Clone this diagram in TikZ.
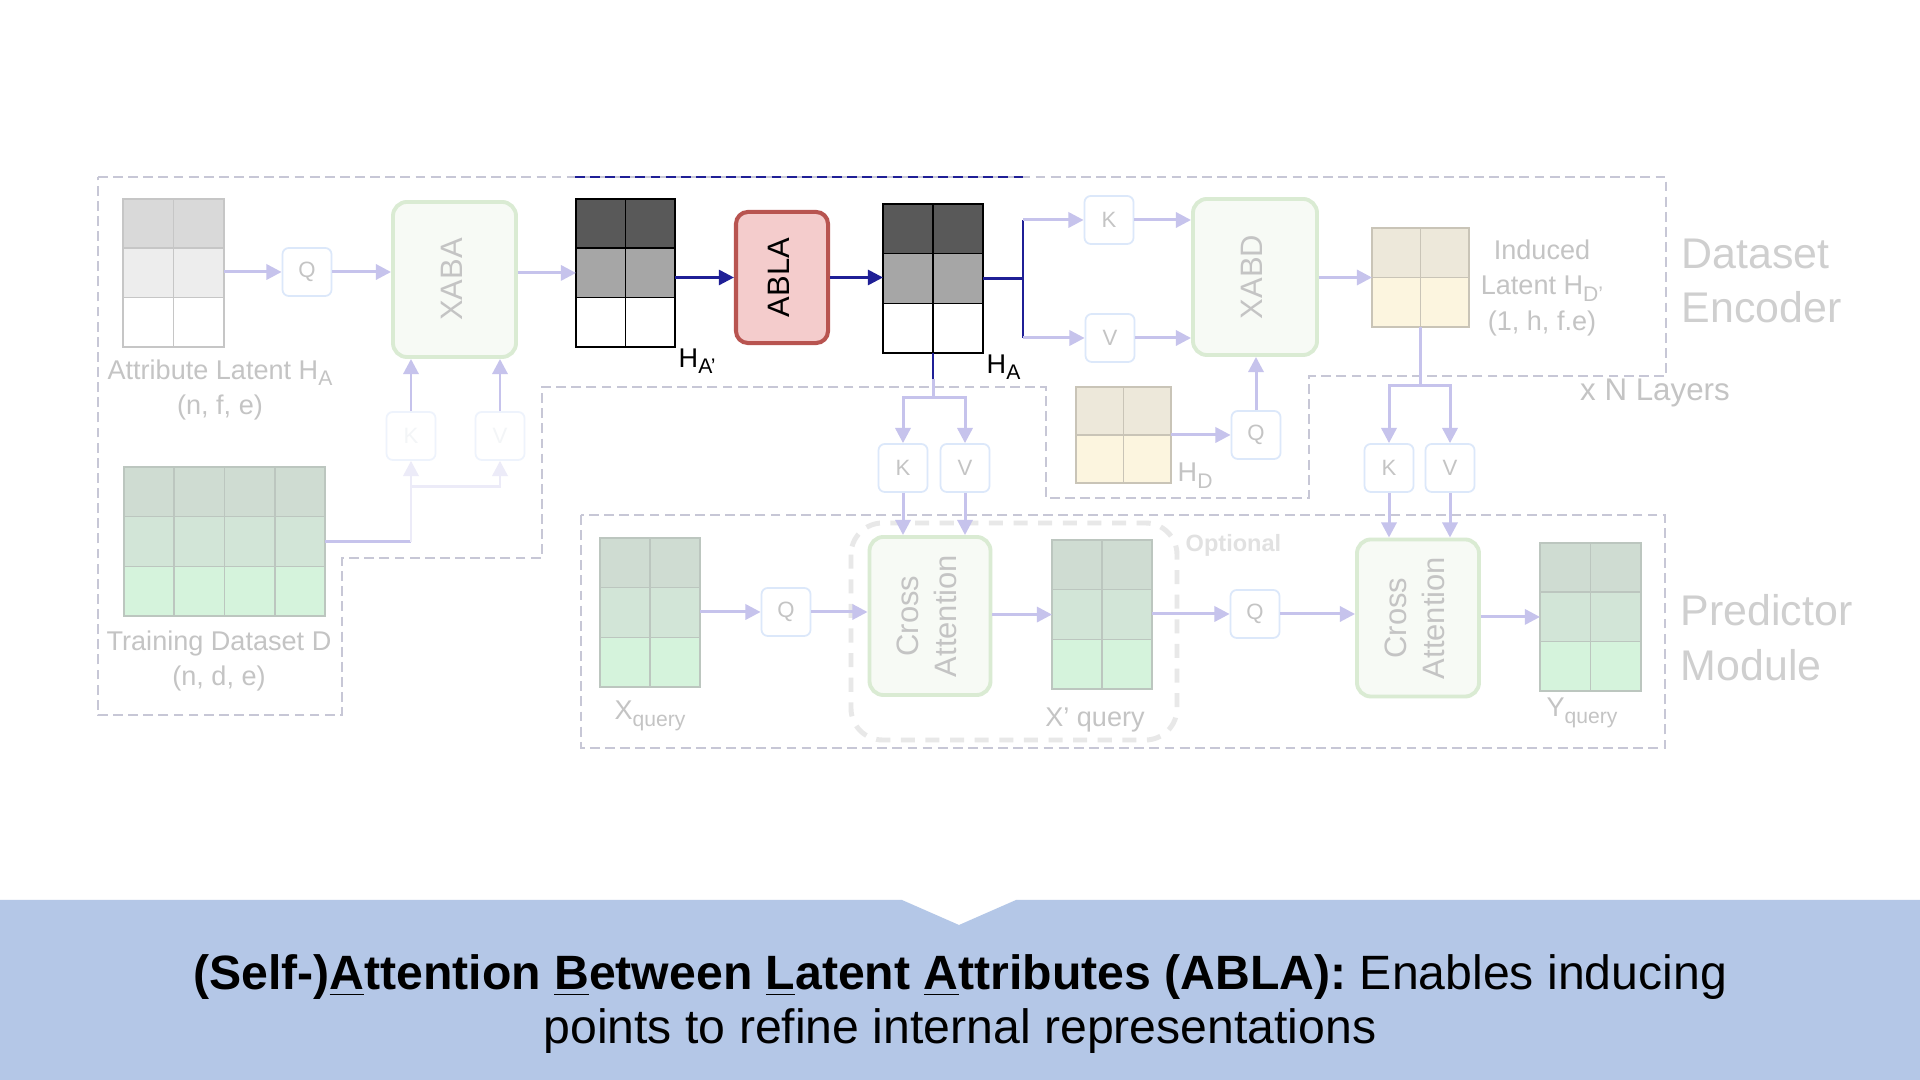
\documentclass[tikz,border=0pt]{standalone}
\usepackage{fontspec}
\setmainfont{Liberation Sans}
\usepackage{graphicx}
\usetikzlibrary{arrows.meta, positioning, calc}
\definecolor{flowpurple}{HTML}{C6C3EC}
\definecolor{ghostpurple}{HTML}{ECEBF8}
\definecolor{ablanavy}{HTML}{1F1F96}
\definecolor{qkvblue}{HTML}{DCE8FA}
\definecolor{ghostblue}{HTML}{EEF3FC}
\definecolor{attngreen}{HTML}{DAEBD3}
\definecolor{attnfill}{HTML}{F7FAF5}
\definecolor{ablafill}{HTML}{F4CCCC}
\definecolor{ablaborder}{HTML}{B85450}
\definecolor{labelgray}{HTML}{C4C4C4}
\definecolor{sectiongray}{HTML}{CFCFCF}
\definecolor{outlinegray}{HTML}{C7C7D6}
\definecolor{optgray}{HTML}{E8E8E8}
\definecolor{bannerblue}{HTML}{B4C7E7}
\definecolor{latgrayA}{HTML}{D9D9D9}
\definecolor{latgrayB}{HTML}{EDEDED}
\definecolor{latline}{HTML}{C6C6C6}
\definecolor{darkA}{HTML}{595959}
\definecolor{darkB}{HTML}{A6A6A6}
\definecolor{greenA}{HTML}{CFDCD2}
\definecolor{greenB}{HTML}{D2E5D7}
\definecolor{greenC}{HTML}{D5F3DC}
\definecolor{greenline}{HTML}{BCC6BF}
\definecolor{beigeA}{HTML}{EDE8DA}
\definecolor{beigeB}{HTML}{FCF5DF}
\definecolor{beigeline}{HTML}{C9C4B7}

% name, left, top, cols, rows, cell w, cell h, row fills, line colour
\newcommand{\cellgrid}[9]{%
  \foreach \gfill [count=\gr from 0] in {#8}{%
    \foreach \gc in {1,...,#4}{%
      \filldraw[fill=\gfill, draw=#9, line width=0.45pt]
        ({#2+(\gc-1)*#6},{#3+\gr*#7}) rectangle ++(#6,#7);
    }%
  }%
  \node[inner sep=0pt, outer sep=0pt, anchor=north west,
        minimum width={#4*#6*0.01cm}, minimum height={#5*#7*0.01cm}] (#1) at (#2,#3) {};%
}
\newcommand{\vtext}[1]{\rotatebox{90}{\begin{tabular}{@{}c@{}}#1\end{tabular}}}
\newcommand{\lsub}[1]{\raisebox{-0.45ex}{\scalebox{0.78}{#1}}}

\tikzset{
  flow/.style={draw=flowpurple, line width=0.85pt, -{Triangle[length=4.3pt, width=4.3pt]}},
  flowline/.style={draw=flowpurple, line width=0.85pt},
  ghostflow/.style={draw=ghostpurple, line width=0.85pt, -{Triangle[length=4.3pt, width=4.3pt]}},
  ghostline/.style={draw=ghostpurple, line width=0.85pt},
  navyflow/.style={draw=ablanavy, line width=0.75pt, -{Triangle[length=4.3pt, width=4.3pt]}},
  navyline/.style={draw=ablanavy, line width=0.75pt},
  qkv/.style={draw=qkvblue, fill=white, rounded corners=1.8pt, line width=0.5pt,
    minimum width=0.49cm, minimum height=0.48cm, inner sep=0pt, text=labelgray,
    font=\fontsize{6.3}{7}\selectfont},
  ghostqkv/.style={qkv, draw=ghostblue, text=ghostblue!70!labelgray!40},
  attnbox/.style={draw=attngreen, fill=attnfill, rounded corners=4pt, line width=1.1pt,
    inner sep=0pt, text=labelgray, font=\fontsize{8.8}{10.8}\selectfont},
  ablabox/.style={draw=ablaborder, fill=ablafill, rounded corners=3.4pt, line width=1.15pt,
    inner sep=0pt, font=\fontsize{8.8}{10.8}\selectfont},
  lbl/.style={inner sep=0pt, text=labelgray, font=\fontsize{7.7}{10}\selectfont},
  hlbl/.style={inner sep=0pt, font=\fontsize{7.7}{9.4}\selectfont},
  section/.style={inner sep=0pt, text=sectiongray, align=left, font=\fontsize{12.2}{15.6}\selectfont},
  outline/.style={draw=outlinegray, line width=0.5pt, dash pattern=on 2.8pt off 1.5pt},
  navydash/.style={draw=ablanavy, line width=0.6pt, dash pattern=on 2.8pt off 1.5pt},
  optdash/.style={draw=optgray, line width=1.4pt, dash pattern=on 4pt off 3pt, rounded corners=9pt},
  caption/.style={inner sep=0pt, align=center, font=\fontsize{13.7}{15.4}\selectfont}
}

\begin{document}
\begin{tikzpicture}[x=0.01cm, y=-0.01cm]
\useasboundingbox (0,0) rectangle (1920,1080);
\fill[white] (0,0) rectangle (1920,1080);

% encoder and predictor outlines
\draw[outline] (98,177) -- (1666,177) -- (1666,376) -- (1309,376) -- (1309,498) -- (1046,498)
  -- (1046,387) -- (542,387) -- (542,558) -- (342,558) -- (342,715) -- (98,715) -- cycle;
\draw[navydash] (575,177) -- (1026,177);
\draw[outline] (581,515) rectangle (1665,748);
\draw[optdash] (851,523) rectangle (1177,740);

% grids
\cellgrid{al}{123}{199}{2}{3}{50.5}{49.3}{latgrayA,latgrayB,white}{latline}
\cellgrid{td}{124}{467}{4}{3}{50.25}{49.7}{greenA,greenB,greenC}{greenline}
\cellgrid{hap}{576}{199}{2}{3}{49.5}{49.3}{darkA,darkB,white}{black}
\cellgrid{ha}{883}{204}{2}{3}{50}{49.7}{darkA,darkB,white}{black}
\cellgrid{hdp}{1372}{228}{2}{2}{48.5}{49.5}{beigeA,beigeB}{beigeline}
\cellgrid{hd}{1076}{387}{2}{2}{47.5}{48}{beigeA,beigeB}{beigeline}
\cellgrid{xq}{600}{538}{2}{3}{50}{49.7}{greenA,greenB,greenC}{greenline}
\cellgrid{xpq}{1052}{540}{2}{3}{50}{49.7}{greenA,greenB,greenC}{greenline}
\cellgrid{yq}{1540}{543}{2}{3}{50.5}{49.3}{greenA,greenB,greenC}{greenline}

% blocks
\node[qkv] (q1) at (307,272) {Q};
\node[attnbox, minimum width=1.23cm, minimum height=1.55cm] (xaba) at (454.5,279.5) {\vtext{XABA}};
\node[ghostqkv] (kx) at (411,436) {K};
\node[ghostqkv] (vx) at (500,436) {V};
\node[ablabox, minimum width=0.92cm, minimum height=1.31cm] (abla) at (782,277.5) {\vtext{ABLA}};
\node[qkv] (k1) at (1109,220) {K};
\node[qkv] (v1) at (1110,338) {V};
\node[attnbox, minimum width=1.24cm, minimum height=1.56cm] (xabd) at (1255,277) {\vtext{XABD}};
\node[qkv] (q3) at (1256,435) {Q};
\node[qkv] (k2) at (903,468) {K};
\node[qkv] (v2) at (965,468) {V};
\node[qkv] (k3) at (1389,468) {K};
\node[qkv] (v3) at (1450,468) {V};
\node[qkv] (q2) at (786,612) {Q};
\node[attnbox, minimum width=1.21cm, minimum height=1.58cm] (ca1) at (930,616) {\vtext{Cross\\Attention}};
\node[qkv] (q4) at (1255,614) {Q};
\node[attnbox, minimum width=1.22cm, minimum height=1.57cm] (ca2) at (1418,618) {\vtext{Cross\\Attention}};

% labels
\node[lbl, align=center] at (220,390) {Attribute Latent H\lsub{A}\\(n, f, e)};
\node[lbl, align=center] at (219,661) {Training Dataset D\\(n, d, e)};
\node[lbl, align=center] at (1542,288) {Induced\\Latent H\lsub{D'}\\(1, h, f.e)};
\node[hlbl, anchor=north west] at ($(hap.south east)+(3,1)$) {H\lsub{A'}};
\node[hlbl, anchor=north west] at ($(ha.south east)+(3,1)$) {H\lsub{A}};
\node[lbl, anchor=south west] at ($(hd.south east)+(6,6)$) {H\lsub{D}};
\node[lbl] at (650,716) {X\lsub{query}};
\node[lbl] at (1095,720) {X' query};
\node[lbl] at (1582,713) {Y\lsub{query}};
\node[lbl, anchor=west, font=\bfseries\fontsize{6.7}{8}\selectfont, text=optgray!80!labelgray] at (1185,545) {Optional};
\node[lbl, font=\fontsize{8.9}{10}\selectfont] at (1655,393) {x N Layers};
\node[section, anchor=west] at (1681,281) {Dataset\\Encoder};
\node[section, anchor=west] at (1680,638) {Predictor\\Module};

% attribute latent path
\draw[flow] (al.east |- q1.west) -- (q1.west);
\draw[flow] (q1.east) -- (q1.east -| xaba.west);
\draw[flow] (xaba.east |- hap.west) -- (hap.west);
\draw[flow] (kx.north) -- (kx.north |- xaba.south);
\draw[flow] (vx.north) -- (vx.north |- xaba.south);
\coordinate (tjoin) at (411,487);
\draw[flowline] (td.east) -- (td.east -| kx.south);
\draw[ghostline] (td.east -| kx.south) -- (tjoin);
\draw[ghostflow] (tjoin) -- (kx.south);
\draw[ghostflow] (tjoin) -| (vx.south);

% ABLA
\draw[navyflow] (hap.east |- abla.west) -- (abla.west);
\draw[navyflow] (abla.east) -- (abla.east -| ha.west);
\coordinate (br) at (1023,278.5);
\draw[navyline] (ha.east) -- (br);
\draw[navyline] (br |- k1.west) -- (br |- v1.west);
\draw[flow] (br |- k1.west) -- (k1.west);
\draw[flow] (br |- v1.west) -- (v1.west);
\draw[navyline] (ha.south) -- ++(0,26) coordinate (hnav);
\coordinate (hsplit) at (933,398);
\draw[flowline] (hnav) -- (hsplit);
\draw[flow] (hsplit) -| (k2.north);
\draw[flow] (hsplit) -| (v2.north);
\draw[flow] (k2.south) -- (k2.south |- ca1.north);
\draw[flow] (v2.south) -- (v2.south |- ca1.north);

% dataset encoder
\draw[flow] (k1.east) -- (k1.east -| xabd.west);
\draw[flow] (v1.east) -- (v1.east -| xabd.west);
\draw[flow] (xabd.east |- hdp.west) -- (hdp.west);
\draw[flow] (hd.east) -- (q3.west);
\draw[flow] (q3.north) -- (q3.north |- xabd.south);
\coordinate (dsplit) at (1420.5,386);
\draw[flowline] (hdp.south) -- (dsplit);
\draw[flow] (dsplit) -| (k3.north);
\draw[flow] (dsplit) -| (v3.north);
\draw[flow] (k3.south) -- (k3.south |- ca2.north);
\draw[flow] (v3.south) -- (v3.south |- ca2.north);

% predictor
\draw[flow] (xq.east |- q2.west) -- (q2.west);
\draw[flow] (q2.east) -- (q2.east -| ca1.west);
\draw[flow] (ca1.east |- xpq.west) -- (xpq.west);
\draw[flow] (xpq.east |- q4.west) -- (q4.west);
\draw[flow] (q4.east) -- (q4.east -| ca2.west);
\draw[flow] (ca2.east |- yq.west) -- (yq.west);

% caption banner
\fill[bannerblue] (0,900) -- (902,900) -- (959,925) -- (1016,900) -- (1920,900) -- (1920,1080) -- (0,1080) -- cycle;
\node[caption] (cap) at (960,1004) {\textbf{(Self-)\underline{A}ttention \underline{B}etween \underline{L}atent \underline{A}ttributes (ABLA):} Enables inducing\\points to refine internal representations};
\end{tikzpicture}
\end{document}
